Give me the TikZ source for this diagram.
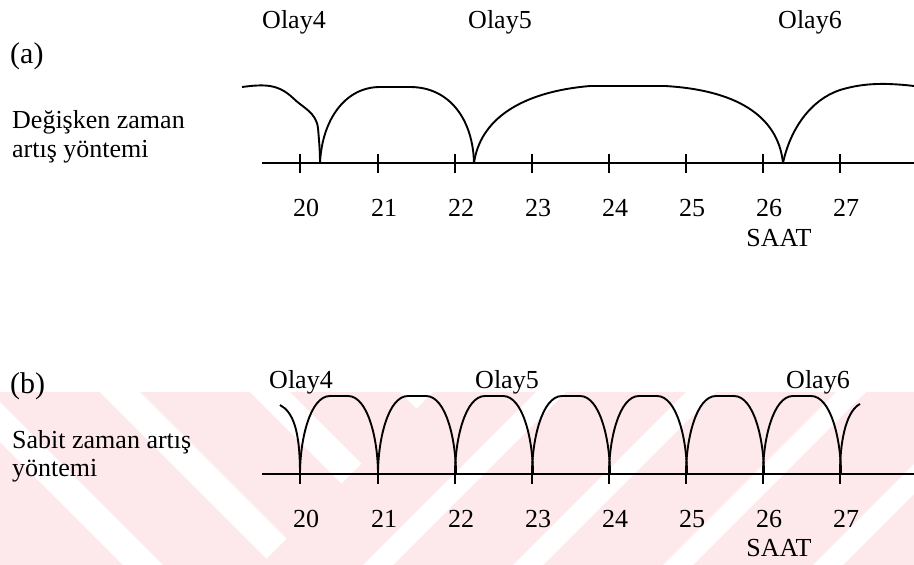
\documentclass[tikz,border=0pt]{standalone}
\usepackage{fontspec}
\setmainfont{Liberation Serif}
\definecolor{wm}{RGB}{253,232,236}
\tikzset{
  lbl/.style={font=\fontsize{26}{30}\selectfont, inner sep=0pt, anchor=base},
  lblw/.style={font=\fontsize{26}{30}\selectfont, inner sep=0pt, anchor=base west},
  panel/.style={font=\fontsize{30}{34}\selectfont, inner sep=0pt, anchor=base west},
  curve/.style={line width=1.9pt, line join=round},
  axisline/.style={line width=1.5pt},
  tick/.style={line width=1.5pt}
}
\begin{document}
\begin{tikzpicture}[x=1pt,y=-1pt]
\useasboundingbox (0,0) rectangle (914,565);
% watermark
\begin{scope}
  \fill[wm] (0,392) rectangle (914,565);
  \begin{scope}
    \clip (433,392) -- (914,392) -- (914,565) -- (260,565) -- cycle;
    \foreach \c in {793,943,1093,1243,1393}{
      \fill[white] (\c-392-15,392) -- (\c-392+15,392) -- (\c-565+15,565) -- (\c-565-15,565) -- cycle;
    }
  \end{scope}
  \begin{scope}
    \clip (0,392) -- (433,392) -- (260,565) -- (0,565) -- cycle;
    \foreach \d in {-422,-272,-122,28}{
      \fill[white] (\d+392-20,392) -- (\d+392+20,392) -- (\d+565+20,565) -- (\d+565-20,565) -- cycle;
    }
  \end{scope}
\end{scope}
% panel (a) texts
\node[panel] (pa) at (10,63) {(a)};
\node[lblw] (da1) at (12,128) {Değişken zaman};
\node[lblw] (da2) at (12,157) {artış yöntemi};
\node[lbl] (oa4) at (294,28) {Olay4};
\node[lbl] (oa5) at (500,28) {Olay5};
\node[lbl] (oa6) at (810,28) {Olay6};
% axis (a)
\coordinate (aL) at (262,163);
\coordinate (aR) at (914,163);
\draw[axisline] (aL) -- (aR);
\foreach \x/\n in {300/20,378/21,455/22,532/23,609/24,686/25,763/26,840/27}{
  \draw[tick] (\x,154) -- (\x,173);
  \node[lbl] (na\n) at (\x+6,216) {\n};
}
\node[lbl] (saata) at (779,246) {SAAT};
% curve (a)
\draw[curve] (242,87) .. controls (265,84) and (278,84) .. (293,98)
  .. controls (303,108) and (316,112) .. (318,128)
  .. controls (319,140) and (320,150) .. (320,163);
\draw[curve] (320,163) .. controls (322,120) and (345,87) .. (380,87) -- (410,87)
  .. controls (450,87) and (473,120) .. (474,163);
\draw[curve] (474,163) .. controls (480,120) and (520,92) .. (590,86) -- (665,86)
  .. controls (735,90) and (778,115) .. (783,163);
\draw[curve] (783,163) .. controls (790,130) and (810,100) .. (840,90)
  .. controls (860,84) and (880,82) .. (914,86);
% panel (b) texts
\node[panel] (pb) at (10,393) {(b)};
\node[lblw] (db1) at (12,448) {Sabit zaman artış};
\node[lblw] (db2) at (12,476) {yöntemi};
\node[lbl] (ob4) at (301,388) {Olay4};
\node[lbl] (ob5) at (507,388) {Olay5};
\node[lbl] (ob6) at (818,388) {Olay6};
% axis (b)
\coordinate (bL) at (262,474);
\coordinate (bR) at (914,474);
\draw[axisline] (bL) -- (bR);
\foreach \x/\n in {300/20,378/21,455/22,532/23,609/24,686/25,763/26,840/27}{
  \draw[tick] (\x,474) -- (\x,484);
  \node[lbl] (nb\n) at (\x+6,527) {\n};
}
\node[lbl] (saatb) at (779,556) {SAAT};
% curve (b)
\draw[curve] (280,405) .. controls (293,412) and (300,430) .. (300,474);
\foreach \x in {300,378,455,532,609,686,763}{
  \draw[curve] (\x,474) .. controls (\x,440) and (\x+10,396) .. (\x+30,396)
    -- (\x+48,396) .. controls (\x+68,396) and (\x+78,440) .. (\x+78,474);
}
\draw[curve] (840,474) .. controls (840,435) and (848,410) .. (860,404);
\end{tikzpicture}
\end{document}
